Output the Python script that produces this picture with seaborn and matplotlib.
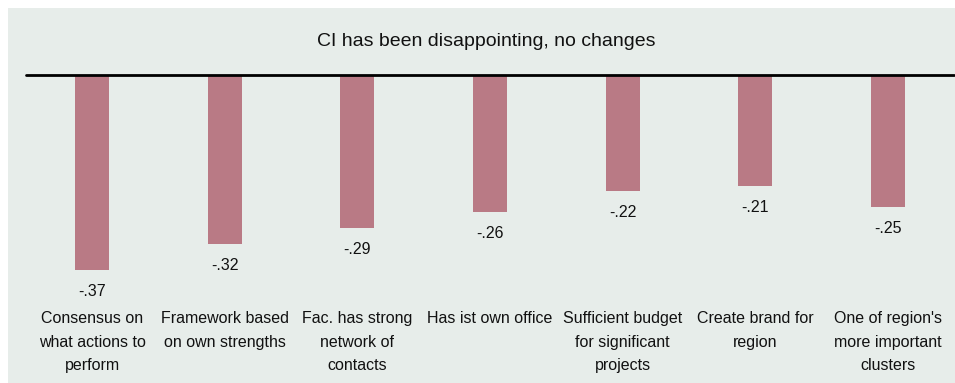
import matplotlib
matplotlib.use("Agg")
import matplotlib.pyplot as plt
from matplotlib.patches import Rectangle
import seaborn as sns

# Items and their mean change scores
categories = [
    "Consensus on\nwhat actions to\nperform",
    "Framework based\non own strengths",
    "Fac. has strong\nnetwork of\ncontacts",
    "Has ist own office",
    "Sufficient budget\nfor significant\nprojects",
    "Create brand for\nregion",
    "One of region's\nmore important\nclusters",
]
values = [-0.37, -0.32, -0.29, -0.26, -0.22, -0.21, -0.25]
title = "CI has been disappointing, no changes"

bar_color = "#b97a85"
panel_color = "#e7edea"
text_color = "#111111"

sns.set_theme(style="white")
plt.rcParams["font.family"] = ["Liberation Sans", "DejaVu Sans"]

W, H = 955, 383
fig = plt.figure(figsize=(W / 100, H / 100), dpi=100)
fig.patch.set_facecolor("white")

# shaded panel behind the chart
fig.patches.append(Rectangle((8 / W, 0), 1 - 8 / W, 1 - 8 / H,
                             transform=fig.transFigure,
                             facecolor=panel_color, edgecolor="none", zorder=-10))

ax_left, ax_right = 26 / W, 954 / W
ax_top = 1 - 75 / H
ymin = -0.43
ax_bottom = 1 - (75 + (-ymin) * 527) / H
ax = fig.add_axes([ax_left, ax_bottom, ax_right - ax_left, ax_top - ax_bottom])
ax.set_facecolor("none")
ax.set_zorder(5)

sns.barplot(x=list(range(len(values))), y=values, color=bar_color,
            saturation=1, width=0.256, linewidth=0, ax=ax)

ax.set_xlim(-0.5, len(values) - 0.5)
ax.set_ylim(ymin, 0)
for s in ax.spines.values():
    s.set_visible(False)
ax.axhline(0, color="black", lw=2, clip_on=False, zorder=3)

ax.set_yticks([])
ax.set_ylabel("")
ax.set_xticks(range(len(categories)))
ax.set_xticklabels(categories, fontsize=11.5, color=text_color)
ax.tick_params(axis="x", length=0, pad=7)
for lbl in ax.get_xticklabels():
    lbl.set_linespacing(1.7)

for i, v in enumerate(values):
    txt = f"{v:.2f}".replace("0.", ".")
    ax.annotate(txt, (i, v), xytext=(0, -15.5), textcoords="offset points",
                ha="center", va="center", fontsize=11.5, color=text_color,
                annotation_clip=False)

fig.text(486 / W, 1 - 42 / H, title, ha="center", va="center",
         fontsize=14, color=text_color)

fig.savefig("out.png", dpi=100)
